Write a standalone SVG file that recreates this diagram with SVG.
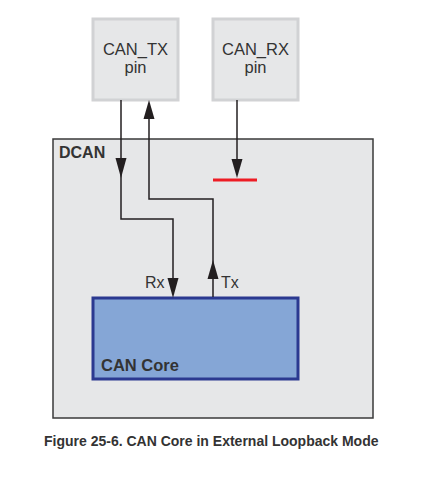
<svg xmlns="http://www.w3.org/2000/svg" width="431" height="480" viewBox="0 0 431 480">
<style>
.pin{fill:#e6e7e8;stroke:#d1d2d4;stroke-width:3}
.pt{font-family:"Liberation Sans",Arial,sans-serif;font-size:16.5px;fill:#333;text-anchor:middle}
.lbl{font-family:"Liberation Sans",Arial,sans-serif;font-size:16px;fill:#333}
.b{font-family:"Liberation Sans",Arial,sans-serif;font-weight:bold;fill:#333}
.w{fill:none;stroke:#231f20;stroke-width:1.5}
.ah{fill:#231f20}
</style>
<rect width="431" height="480" fill="#ffffff"/>
<g id="dcan">
<rect x="53" y="139" width="320" height="279" fill="#e6e7e8" stroke="#3a3a3a" stroke-width="1.5"/>
<text class="b" x="59" y="158" font-size="16">DCAN</text>
</g>
<g id="can_tx">
<rect class="pin" x="93" y="19" width="85" height="81"/>
<text class="pt" x="135.5" y="55">CAN_TX</text>
<text class="pt" x="135.5" y="73">pin</text>
</g>
<g id="can_rx">
<rect class="pin" x="213" y="19" width="85" height="81"/>
<text class="pt" x="255.5" y="55">CAN_RX</text>
<text class="pt" x="255.5" y="73">pin</text>
</g>
<g id="can_core">
<rect x="93" y="298" width="205" height="81" fill="#85a6d6" stroke="#2b3990" stroke-width="3"/>
<text class="b" x="101" y="371" font-size="16.5">CAN Core</text>
</g>
<g id="connectors">
<path class="w" d="M121 100 V219 H173 V290"/>
<path class="ah" d="M115.5 158 L126.5 158 L121 178 Z"/>
<path class="ah" d="M167.5 278 L178.5 278 L173 298 Z"/>
<path class="w" d="M149 110 V199 H213 V297"/>
<path class="ah" d="M143.5 119 L154.5 119 L149 100 Z"/>
<path class="ah" d="M207.5 279 L218.5 279 L213 260 Z"/>
<path class="w" d="M237 100 V170"/>
<path class="ah" d="M231.5 159 L242.5 159 L237 178 Z"/>
<line x1="213" y1="180" x2="257" y2="180" stroke="#ed1c24" stroke-width="3"/>
<text class="lbl" x="145" y="288">Rx</text>
<text class="lbl" x="221" y="288">Tx</text>
</g>
<text class="b" x="44" y="446" font-size="14" fill="#231f20">Figure 25-6. CAN Core in External Loopback Mode</text>
</svg>
